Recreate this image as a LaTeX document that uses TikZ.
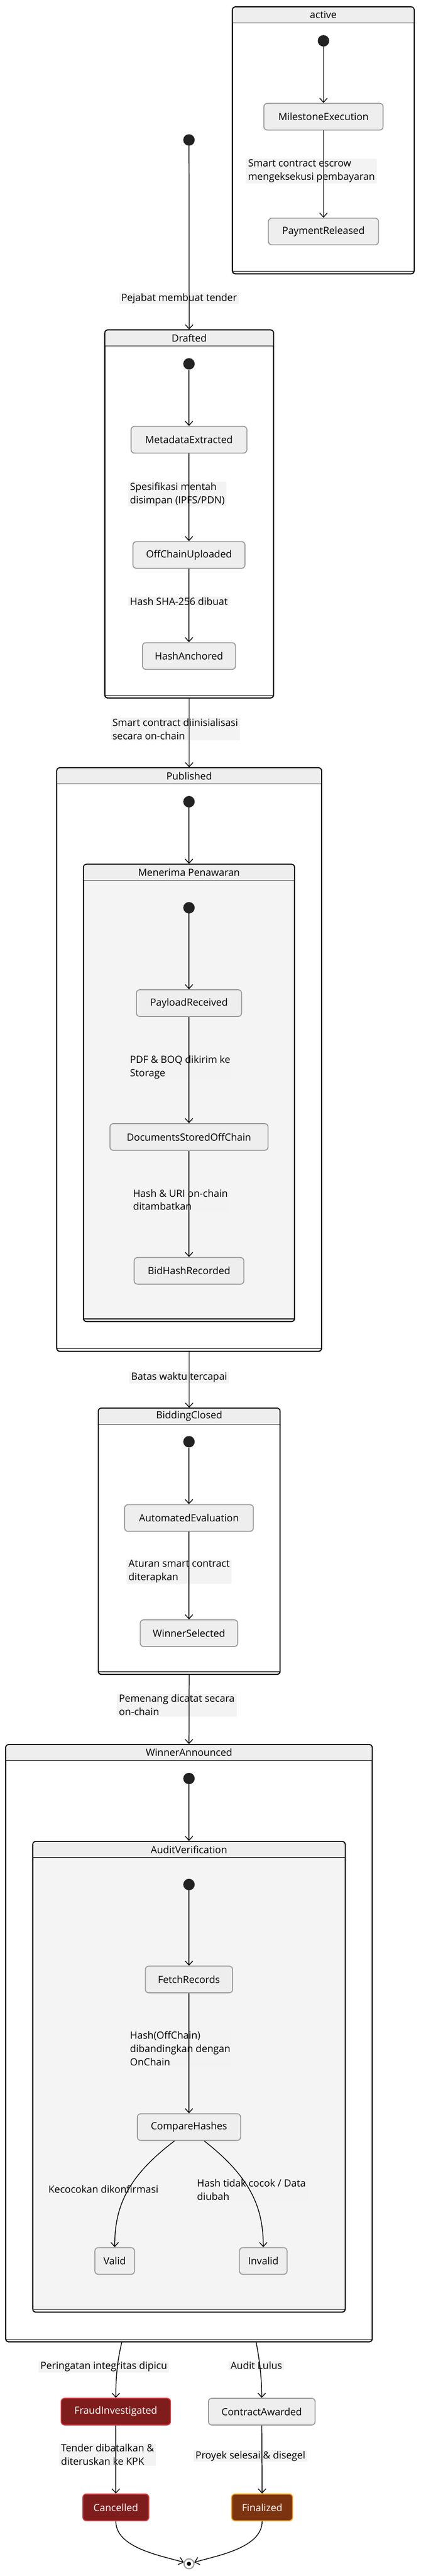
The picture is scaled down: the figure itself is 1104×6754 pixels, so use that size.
\documentclass[tikz,border=0pt]{standalone}
\usepackage{fontspec}
\setmainfont{Open Sans}
\usetikzlibrary{arrows.meta}
\definecolor{stfill}{HTML}{EEEEEE}
\definecolor{stline}{HTML}{9A9A9A}
\definecolor{lblbg}{HTML}{F3F3F3}
\definecolor{inner}{HTML}{F4F4F4}
\definecolor{dot}{HTML}{222222}
\definecolor{fraudfill}{HTML}{7F1D1D}
\definecolor{fraudline}{HTML}{E0383E}
\definecolor{finfill}{HTML}{7C3410}
\definecolor{finline}{HTML}{F59E0B}
\tikzset{
  x=1pt,y=-1pt,
  every node/.style={font=\fontsize{26}{35}\selectfont},
  st/.style={draw=stline,fill=stfill,rounded corners=9,line width=2.5pt,minimum height=70pt,inner xsep=0pt},
  bad/.style={st,draw=fraudline,fill=fraudfill,text=white},
  fin/.style={st,draw=finline,fill=finfill,text=white},
  lbl/.style={fill=lblbg,anchor=north west,align=left,inner xsep=5pt,inner ysep=2pt},
  init/.style={circle,fill=dot,minimum size=30pt,inner sep=0pt},
  ed/.style={line width=2pt,-{Straight Barb[length=11pt,width=20pt,line width=2pt]}},
  cb/.style={draw=black,line width=2.5pt,rounded corners=8,inner sep=0pt}
}
\newcommand\compbox[7]{%
  \node[cb,fill=#7,minimum width={(#4-#2)*1pt},minimum height={(#5-#3)*1pt}] (#1) at ({(#2+#4)/2},{(#3+#5)/2}) {};
  \fill[stfill] (#2,#3+42) [rounded corners=8] -- (#2,#3) -- (#4,#3) [sharp corners] -- (#4,#3+42) -- cycle;
  \draw[line width=2pt] (#2,#3+42) -- (#4,#3+42);
  \draw[line width=2pt] (#2,#5-7) -- (#4,#5-7);
  \draw[cb] (#2,#3) rectangle (#4,#5);
  \node at ({(#2+#4)/2},#3+21) {#6};
}
\begin{document}
\begin{tikzpicture}
\useasboundingbox[fill=white] (0,0) rectangle (1104,6754);
% active
\compbox{active}{610}{18}{1087}{718}{active}{white}
\node[init] (ai) at (849,107) {};
\node[st,minimum width=313pt] (mile) at (849,306) {MilestoneExecution};
\node[st,minimum width=289pt] (pay) at (849,607) {PaymentReleased};
\node[lbl] (l1) at (646,416) {Smart contract escrow\\mengeksekusi pembayaran};
% top
\node[init] (start) at (496,367) {};
\compbox{drafted}{275}{865}{718}{1830}{Drafted}{white}
\node[init] (di) at (496,954) {};
\node[st,minimum width=304pt] (meta) at (496,1153) {MetadataExtracted};
\node[st,minimum width=294pt] (off) at (496,1455) {OffChainUploaded};
\node[st,minimum width=244pt] (ha) at (496,1720) {HashAnchored};
\compbox{pub}{149}{2013}{844}{3543}{Published}{white}
\node[init] (pi) at (496,2102) {};
\compbox{men}{219}{2266}{773}{3465}{Menerima Penawaran}{inner}
\node[init] (mi) at (496,2380) {};
\node[st,minimum width=276pt] (payl) at (496,2630) {PayloadReceived};
\node[st,minimum width=415pt] (docs) at (496,2981) {DocumentsStoredOffChain};
\node[st,minimum width=288pt] (bid) at (496,3332) {BidHashRecorded};
\compbox{bc}{258}{3692}{735}{4390}{BiddingClosed}{white}
\node[init] (bi) at (496,3780) {};
\node[st,minimum width=338pt] (auto) at (496,3980) {AutomatedEvaluation};
\node[st,minimum width=256pt] (win) at (496,4282) {WinnerSelected};
\compbox{wa}{15}{4574}{977}{6140}{WinnerAnnounced}{white}
\node[init] (wi) at (496,4663) {};
\compbox{av}{86}{4828}{906}{6062}{AuditVerification}{inner}
\node[init] (avi) at (496,4941) {};
\node[st,minimum width=229pt] (fetch) at (496,5190) {FetchRecords};
\node[st,minimum width=271pt] (cmp) at (496,5577) {CompareHashes};
\node[st,minimum width=104pt] (valid) at (301,5928) {Valid};
\node[st,minimum width=125pt] (invalid) at (691,5928) {Invalid};
\node[bad,minimum width=287pt] (fraud) at (304,6323) {FraudInvestigated};
\node[st,minimum width=280pt] (award) at (687,6323) {ContractAwarded};
\node[bad,minimum width=173pt] (canc) at (304,6574) {Cancelled};
\node[fin,minimum width=160pt] (final) at (688,6574) {Finalized};
\node[circle,draw=stline,line width=3pt,minimum size=26pt,inner sep=0pt,fill=white] (end) at (496,6722) {};
\node[circle,fill=black,minimum size=11pt,inner sep=0pt] at (end) {};
\coordinate (waL) at (320,6140);
\coordinate (waR) at (672,6140);
% labels
\node[lbl] (l0) at (313,767) {Pejabat membuat tender};
\node[lbl] (l2) at (336,1263) {Spesifikasi mentah\\disimpan (IPFS/PDN)};
\node[lbl] (l3) at (336,1564) {Hash SHA-256 dibuat};
\node[lbl] (l4) at (290,1882) {Smart contract diinisialisasi\\secara on-chain};
\node[lbl] (l5) at (336,2765) {PDF \& BOQ dikirim ke\\Storage};
\node[lbl] (l6) at (344,3116) {Hash \& URI on-chain\\ditambatkan};
\node[lbl] (l7) at (339,3596) {Batas waktu tercapai};
\node[lbl] (l8) at (332,4088) {Aturan smart contract\\diterapkan};
\node[lbl] (l9) at (307,4441) {Pemenang dicatat secara\\on-chain};
\node[lbl] (l10) at (336,5324) {Hash(OffChain)\\dibandingkan dengan\\OnChain};
\node[lbl] (l11) at (122,5728) {Kecocokan dikonfirmasi};
\node[lbl] (l12) at (512,5712) {Hash tidak cocok / Data\\diubah};
\node[lbl] (l13) at (101,6190) {Peringatan integritas dipicu};
\node[lbl] (l14) at (600,6190) {Audit Lulus};
\node[lbl] (l15) at (155,6406) {Tender dibatalkan \&\\diteruskan ke KPK};
\node[lbl] (l16) at (508,6424) {Proyek selesai \& disegel};
% edges
\draw[ed] (ai) -- (mile);
\draw[ed] (mile) -- (pay);
\draw[ed] (start) -- (drafted.north);
\draw[ed] (di) -- (meta);
\draw[ed] (meta) -- (off);
\draw[ed] (off) -- (ha);
\draw[ed] (drafted.south) -- (pub.north);
\draw[ed] (pi) -- (men.north);
\draw[ed] (mi) -- (payl);
\draw[ed] (payl) -- (docs);
\draw[ed] (docs) -- (bid);
\draw[ed] (pub.south) -- (bc.north);
\draw[ed] (bi) -- (auto);
\draw[ed] (auto) -- (win);
\draw[ed] (bc.south) -- (wa.north);
\draw[ed] (wi) -- (av.north);
\draw[ed] (avi) -- (fetch);
\draw[ed] (fetch) -- (cmp);
\draw[ed] (cmp.south -| 458,0) .. controls (330,5710) and (301,5790) .. (valid.north);
\draw[ed] (cmp.south -| 536,0) .. controls (660,5710) and (691,5790) .. (invalid.north);
\draw[ed] (waL) .. controls (305,6200) and (304,6250) .. (fraud.north);
\draw[ed] (waR) .. controls (684,6200) and (687,6250) .. (award.north);
\draw[ed] (fraud) -- (canc);
\draw[ed] (award) -- (final);
\draw[ed] (canc.south) .. controls (304,6680) and (420,6700) .. (end);
\draw[ed] (final.south) .. controls (688,6680) and (572,6700) .. (end);
\end{tikzpicture}
\end{document}
